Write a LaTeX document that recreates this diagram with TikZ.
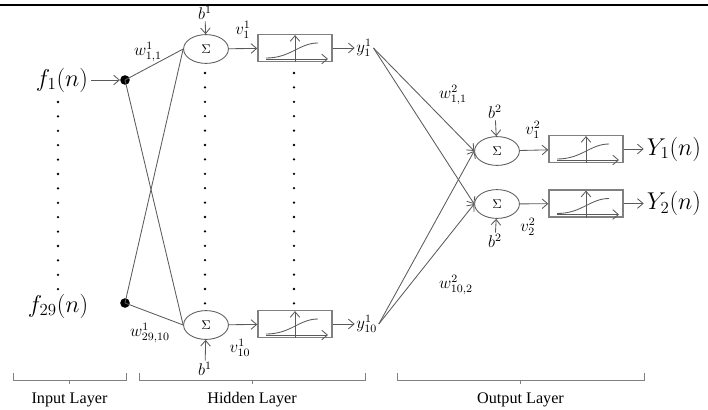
\documentclass[tikz,border=0pt]{standalone}
\usepackage{fontspec}
\setmainfont{Liberation Serif}
\usetikzlibrary{arrows.meta,positioning,calc,shapes.geometric}
\definecolor{nLine}{HTML}{5A5A5A}
\definecolor{nGrey}{HTML}{808080}
\tikzset{
  sumnd/.style = {ellipse, draw=nLine, line width=0.6pt, minimum width=1.12cm,
                  minimum height=0.72cm, inner sep=0pt, font=\small},
  actnd/.style = {rectangle, draw=nGrey, line width=1pt, minimum width=1.85cm,
                  minimum height=0.68cm, inner sep=0pt},
  dotnd/.style = {circle, fill=black, inner sep=0pt, minimum size=2.4mm},
  ar/.style    = {-{Straight Barb[length=1.4mm,width=2.4mm]}, draw=nLine, line width=0.6pt},
  ln/.style    = {draw=nLine, line width=0.6pt},
  lbl/.style   = {font=\fontsize{12}{14}\selectfont, inner sep=1pt},
  io/.style    = {font=\fontsize{17}{20}\selectfont, inner sep=2pt},
  lyr/.style   = {font=\fontsize{11.5}{14}\selectfont},
  brk/.style   = {draw=nGrey, line width=0.6pt},
}

\begin{document}
\begin{tikzpicture}[x=0.025cm, y=-0.025cm]
  \useasboundingbox (0,0) rectangle (708,409);
  \draw[black, line width=0.8pt] (0,5) -- (708,5);

  % input layer
  \node[io] (f1) at (62,80) {$f_1(n)$};
  \node[io] (f29) at (58,306) {$f_{29}(n)$};
  \node[dotnd] (d1) at (125,80) {};
  \node[dotnd] (d29) at (125,303) {};
  \draw[ar] (f1) -- (d1);
  \foreach \i in {0,...,13}
    \fill (58,102+\i*14.4) circle (0.9pt);

  % hidden layer
  \node[sumnd] (s1) at (206,49) {$\Sigma$};
  \node[sumnd] (s10) at (206,325) {$\Sigma$};
  \node[actnd] (a1) at (295,48) {};
  \node[actnd] (a10) at (295,324) {};
  \node[lbl, right=0.55cm of a1] (y1) {$y^1_1$};
  \node[lbl, right=0.55cm of a10] (y10) {$y^1_{10}$};
  \node[lbl] (b1t) at (205,13) {$b^1$};
  \node[lbl] (b1b) at (205,369) {$b^1$};
  \node[lbl] (v1) at (243,30) {$v^1_1$};
  \node[lbl] (v10) at (240,348) {$v^1_{10}$};
  \node[lbl] (w11) at (148,52) {$w^1_{1,1}$};
  \node[lbl] (w2910) at (150,333) {$w^1_{29,10}$};
  \foreach \d in {d1,d29}
    \foreach \s in {s1,s10}
      \draw[ln] (\d.center) -- (\s.west);
  \draw[ar] (b1t) -- (s1);
  \draw[ar] (b1b) -- (s10);
  \draw[ar] (s1) -- (a1);
  \draw[ar] (s10) -- (a10);
  \draw[ar] (a1) -- (y1);
  \draw[ar] (a10) -- (y10);
  \foreach \xc in {205,294}
    \foreach \i in {0,...,16}
      \fill (\xc,73+\i*14.4) circle (0.9pt);

  % output layer
  \node[sumnd] (o1) at (497,151) {$\Sigma$};
  \node[sumnd] (o2) at (497,204) {$\Sigma$};
  \node[actnd] (g1) at (586,149) {};
  \node[actnd] (g2) at (586,203.5) {};
  \node[io, right=0.5cm of g1] (Y1) {$Y_1(n)$};
  \node[io, right=0.5cm of g2] (Y2) {$Y_2(n)$};
  \node[lbl] (b2t) at (495,112) {$b^2$};
  \node[lbl] (b2b) at (495,241) {$b^2$};
  \node[lbl] (v21) at (533,130) {$v^2_1$};
  \node[lbl] (v22) at (528,227) {$v^2_2$};
  \node[lbl] (w211) at (453,95) {$w^2_{1,1}$};
  \node[lbl] (w2102) at (456,285) {$w^2_{10,2}$};
  \foreach \y in {y1,y10}
    \foreach \o in {o1,o2}
      \draw[ar] (\y.east) -- (\o.west);
  \draw[ar] (b2t) -- (o1);
  \draw[ar] (b2b) -- (o2);
  \draw[ar] (o1) -- (g1);
  \draw[ar] (o2) -- (g2);
  \draw[ar] (g1) -- (Y1);
  \draw[ar] (g2) -- (Y2);

  % transfer functions
  \foreach \a in {a1,a10,g1,g2}{
    \draw[ar, shorten >=1pt] (\a.south) -- (\a.north);
    \draw[ar] ($(\a.center)+(-29,11)$) -- ($(\a.center)+(33,11)$);
    \draw[ln] ($(\a.center)+(-29,10)$) .. controls ($(\a.center)+(-4,10)$)
      and ($(\a.center)+(4,-5)$) .. ($(\a.center)+(23,-5)$);
  }

  % layer brackets
  \foreach \xa/\xb/\nm/\txt in {13/126/inL/Input Layer,139/365/hidL/Hidden Layer,397/644/outL/Output Layer}{
    \draw[brk] (\xa,373) -- (\xa,380) -- (\xb,380) -- (\xb,373);
    \draw[brk] ({(\xa+\xb)/2},380) -- ({(\xa+\xb)/2},384);
    \node[lyr] (\nm) at ({(\xa+\xb)/2},400) {\txt};
  }
\end{tikzpicture}
\end{document}
